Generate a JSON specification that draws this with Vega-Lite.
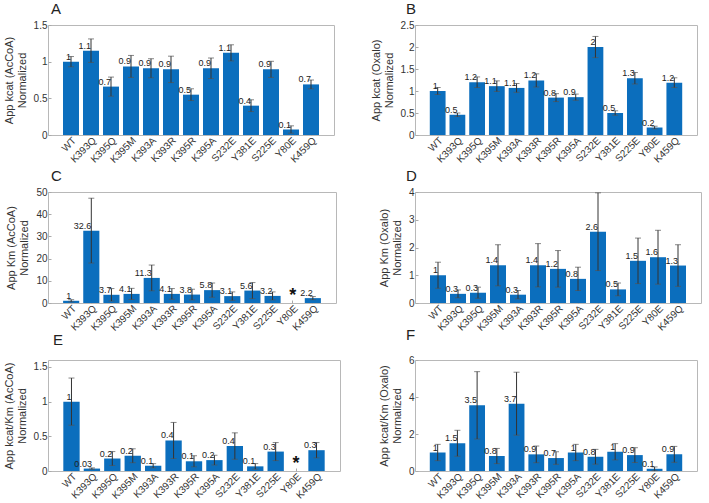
{
  "$schema": "https://vega.github.io/schema/vega-lite/v6.json",
  "padding": {"left": 2, "top": 1, "right": 0, "bottom": 0},
  "bounds": "flush",
  "columns": 2,
  "spacing": {"row": 57, "column": 75},
  "config": {
    "font": "Liberation Sans",
    "view": {"stroke": "#b8b8b8"},
    "axis": {"domain": false, "grid": false, "labelFont": "Liberation Sans", "labelFontSize": 10, "labelColor": "#333", "tickColor": "#aaa", "tickSize": -3, "labelPadding": 4, "titleFont": "Liberation Sans", "titleFontSize": 11, "titleColor": "#333", "titleFontWeight": "normal", "titlePadding": 6},
    "axisX": {"labelAngle": -45, "title": null, "labelPadding": 3},
    "title": {"fontSize": 15, "fontWeight": "normal", "anchor": "start", "frame": "group", "color": "#222", "font": "Liberation Sans", "offset": 3}
  },
  "datasets": {
    "A": [
      {"m": "WT", "v": 1.0, "e": 0.07, "lab": "1"},
      {"m": "K393Q", "v": 1.15, "e": 0.16, "lab": "1.1"},
      {"m": "K395Q", "v": 0.66, "e": 0.13, "lab": "0.7"},
      {"m": "K395M", "v": 0.935, "e": 0.15, "lab": "0.9"},
      {"m": "K393A", "v": 0.91, "e": 0.13, "lab": "0.9"},
      {"m": "K393R", "v": 0.895, "e": 0.18, "lab": "0.9"},
      {"m": "K395R", "v": 0.55, "e": 0.08, "lab": "0.5"},
      {"m": "K395A", "v": 0.91, "e": 0.14, "lab": "0.9"},
      {"m": "S232E", "v": 1.12, "e": 0.11, "lab": "1.1"},
      {"m": "Y381E", "v": 0.40, "e": 0.08, "lab": "0.4"},
      {"m": "S225E", "v": 0.895, "e": 0.11, "lab": "0.9"},
      {"m": "Y80E", "v": 0.075, "e": 0.05, "lab": "0.1"},
      {"m": "K459Q", "v": 0.69, "e": 0.06, "lab": "0.7"}
    ],
    "B": [
      {"m": "WT", "v": 1.0, "e": 0.08, "lab": "1"},
      {"m": "K393Q", "v": 0.46, "e": 0.04, "lab": "0.5"},
      {"m": "K395Q", "v": 1.2, "e": 0.12, "lab": "1.2"},
      {"m": "K395M", "v": 1.11, "e": 0.12, "lab": "1.1"},
      {"m": "K393A", "v": 1.07, "e": 0.1, "lab": "1.1"},
      {"m": "K393R", "v": 1.24, "e": 0.15, "lab": "1.2"},
      {"m": "K395R", "v": 0.85, "e": 0.09, "lab": "0.8"},
      {"m": "K395A", "v": 0.86, "e": 0.07, "lab": "0.9"},
      {"m": "S232E", "v": 2.0, "e": 0.24, "lab": "2"},
      {"m": "Y381E", "v": 0.5, "e": 0.05, "lab": "0.5"},
      {"m": "S225E", "v": 1.29, "e": 0.13, "lab": "1.3"},
      {"m": "Y80E", "v": 0.17, "e": 0.03, "lab": "0.2"},
      {"m": "K459Q", "v": 1.19, "e": 0.11, "lab": "1.2"}
    ],
    "C": [
      {"m": "WT", "v": 1.0, "e": 0.5, "lab": "1"},
      {"m": "K393Q", "v": 32.6, "e": 14.6, "lab": "32.6"},
      {"m": "K395Q", "v": 3.7, "e": 2.8, "lab": "3.7"},
      {"m": "K395M", "v": 4.1, "e": 2.5, "lab": "4.1"},
      {"m": "K393A", "v": 11.3, "e": 5.8, "lab": "11.3"},
      {"m": "K393R", "v": 4.1, "e": 2.4, "lab": "4.1"},
      {"m": "K395R", "v": 3.8, "e": 2.4, "lab": "3.8"},
      {"m": "K395A", "v": 5.8, "e": 3.2, "lab": "5.8"},
      {"m": "S232E", "v": 3.1, "e": 1.9, "lab": "3.1"},
      {"m": "Y381E", "v": 5.6, "e": 3.6, "lab": "5.6"},
      {"m": "S225E", "v": 3.2, "e": 1.8, "lab": "3.2"},
      {"m": "K459Q", "v": 2.2, "e": 0.7, "lab": "2.2"}
    ],
    "D": [
      {"m": "WT", "v": 1.0, "e": 0.47, "lab": "1"},
      {"m": "K393Q", "v": 0.33, "e": 0.14, "lab": "0.3"},
      {"m": "K395Q", "v": 0.37, "e": 0.2, "lab": "0.3"},
      {"m": "K395M", "v": 1.36, "e": 0.74, "lab": "1.4"},
      {"m": "K393A", "v": 0.3, "e": 0.15, "lab": "0.3"},
      {"m": "K393R", "v": 1.36, "e": 0.78, "lab": "1.4"},
      {"m": "K395R", "v": 1.23, "e": 0.66, "lab": "1.2"},
      {"m": "K395A", "v": 0.87, "e": 0.42, "lab": "0.8"},
      {"m": "S232E", "v": 2.57, "e": 1.4, "lab": "2.6"},
      {"m": "Y381E", "v": 0.49, "e": 0.23, "lab": "0.5"},
      {"m": "S225E", "v": 1.52, "e": 0.82, "lab": "1.5"},
      {"m": "Y80E", "v": 1.65, "e": 0.97, "lab": "1.6"},
      {"m": "K459Q", "v": 1.35, "e": 0.75, "lab": "1.3"}
    ],
    "E": [
      {"m": "WT", "v": 1.0, "e": 0.34, "lab": "1"},
      {"m": "K393Q", "v": 0.035, "e": 0.01, "lab": "0.03"},
      {"m": "K395Q", "v": 0.18, "e": 0.1, "lab": "0.2"},
      {"m": "K395M", "v": 0.22, "e": 0.1, "lab": "0.2"},
      {"m": "K393A", "v": 0.076, "e": 0.03, "lab": "0.1"},
      {"m": "K393R", "v": 0.44, "e": 0.26, "lab": "0.4"},
      {"m": "K395R", "v": 0.14, "e": 0.08, "lab": "0.1"},
      {"m": "K395A", "v": 0.157, "e": 0.07, "lab": "0.2"},
      {"m": "S232E", "v": 0.36, "e": 0.19, "lab": "0.4"},
      {"m": "Y381E", "v": 0.067, "e": 0.04, "lab": "0.1"},
      {"m": "S225E", "v": 0.28, "e": 0.13, "lab": "0.3"},
      {"m": "K459Q", "v": 0.30, "e": 0.11, "lab": "0.3"}
    ],
    "F": [
      {"m": "WT", "v": 1.0, "e": 0.44, "lab": "1"},
      {"m": "K393Q", "v": 1.5, "e": 0.7, "lab": "1.5"},
      {"m": "K395Q", "v": 3.55, "e": 1.82, "lab": "3.5"},
      {"m": "K395M", "v": 0.81, "e": 0.41, "lab": "0.8"},
      {"m": "K393A", "v": 3.64, "e": 1.7, "lab": "3.7"},
      {"m": "K393R", "v": 0.9, "e": 0.45, "lab": "0.9"},
      {"m": "K395R", "v": 0.7, "e": 0.34, "lab": "0.7"},
      {"m": "K395A", "v": 1.0, "e": 0.44, "lab": "1"},
      {"m": "S232E", "v": 0.77, "e": 0.4, "lab": "0.8"},
      {"m": "Y381E", "v": 1.04, "e": 0.44, "lab": "1"},
      {"m": "S225E", "v": 0.86, "e": 0.4, "lab": "0.9"},
      {"m": "Y80E", "v": 0.12, "e": 0.1, "lab": "0.1"},
      {"m": "K459Q", "v": 0.9, "e": 0.43, "lab": "0.9"}
    ],
    "star": [{"m": "Y80E", "s": "*"}]
  },
  "concat": [
    {
      "width": 286, "height": 110,
      "title": {"text": "A", "dx": 3},
      "data": {"name": "A"},
      "encoding": {
        "x": {"field": "m", "type": "nominal", "sort": null, "scale": {"domain": ["WT","K393Q","K395Q","K395M","K393A","K393R","K395R","K395A","S232E","Y381E","S225E","Y80E","K459Q"], "paddingInner": 0.2, "paddingOuter": 0.75}},
        "y": {"field": "v", "type": "quantitative", "scale": {"domain": [0, 1.5]}, "axis": {"values": [0, 0.5, 1, 1.5], "format": "~r", "title": ["App kcat (AcCoA)", "Normalized"]}}
      },
      "layer": [
        {"mark": {"type": "bar", "color": "#0b6ebd"}},
        {"mark": {"type": "errorbar", "color": "#333", "ticks": {"size": 6, "color": "#555"}}, "encoding": {"yError": {"field": "e"}}},
        {"mark": {"type": "text", "align": "right", "baseline": "bottom", "fontSize": 9, "color": "#222"}, "encoding": {"text": {"field": "lab"}}}
      ]
    },
    {
      "width": 282, "height": 110,
      "title": {"text": "B", "dx": -9},
      "data": {"name": "B"},
      "encoding": {
        "x": {"field": "m", "type": "nominal", "sort": null, "scale": {"domain": ["WT","K393Q","K395Q","K395M","K393A","K393R","K395R","K395A","S232E","Y381E","S225E","Y80E","K459Q"], "paddingInner": 0.2, "paddingOuter": 0.75}},
        "y": {"field": "v", "type": "quantitative", "scale": {"domain": [0, 2.5]}, "axis": {"values": [0, 0.5, 1, 1.5, 2, 2.5], "format": "~r", "title": ["App kcat (Oxalo)", "Normalized"]}}
      },
      "layer": [
        {"mark": {"type": "bar", "color": "#0b6ebd"}},
        {"mark": {"type": "errorbar", "color": "#333", "ticks": {"size": 6, "color": "#555"}}, "encoding": {"yError": {"field": "e"}}},
        {"mark": {"type": "text", "align": "right", "baseline": "bottom", "fontSize": 9, "color": "#222"}, "encoding": {"text": {"field": "lab"}}}
      ]
    },
    {
      "width": 288, "height": 111,
      "title": {"text": "C", "dx": 3},
      "layer": [
        {
          "data": {"name": "C"},
          "encoding": {
            "x": {"field": "m", "type": "nominal", "sort": null, "scale": {"domain": ["WT","K393Q","K395Q","K395M","K393A","K393R","K395R","K395A","S232E","Y381E","S225E","Y80E","K459Q"], "paddingInner": 0.2, "paddingOuter": 0.75}},
            "y": {"field": "v", "type": "quantitative", "scale": {"domain": [0, 50]}, "axis": {"values": [0, 10, 20, 30, 40, 50], "format": "~r", "title": ["App Km (AcCoA)", "Normalized"]}}
          },
          "layer": [
            {"mark": {"type": "bar", "color": "#0b6ebd"}},
            {"mark": {"type": "errorbar", "color": "#333", "ticks": {"size": 6, "color": "#555"}}, "encoding": {"yError": {"field": "e"}}},
            {"mark": {"type": "text", "align": "right", "baseline": "bottom", "fontSize": 9, "color": "#222"}, "encoding": {"text": {"field": "lab"}}}
          ]
        },
        {
          "data": {"name": "star"},
          "mark": {"type": "text", "fontSize": 18, "fontWeight": "bold", "baseline": "alphabetic", "align": "center", "dy": -2, "color": "#111"},
          "encoding": {
            "x": {"field": "m", "type": "nominal", "sort": null},
            "y": {"datum": 0, "axis": {"values": [0, 10, 20, 30, 40, 50], "format": "~r", "title": ["App Km (AcCoA)", "Normalized"]}},
            "text": {"field": "s"}
          }
        }
      ]
    },
    {
      "width": 286, "height": 111,
      "title": {"text": "D", "dx": -9},
      "data": {"name": "D"},
      "encoding": {
        "x": {"field": "m", "type": "nominal", "sort": null, "scale": {"domain": ["WT","K393Q","K395Q","K395M","K393A","K393R","K395R","K395A","S232E","Y381E","S225E","Y80E","K459Q"], "paddingInner": 0.2, "paddingOuter": 0.75}},
        "y": {"field": "v", "type": "quantitative", "scale": {"domain": [0, 4]}, "axis": {"values": [0, 1, 2, 3, 4], "format": "~r", "title": ["App Km (Oxalo)", "Normalized"]}}
      },
      "layer": [
        {"mark": {"type": "bar", "color": "#0b6ebd"}},
        {"mark": {"type": "errorbar", "color": "#333", "ticks": {"size": 6, "color": "#555"}}, "encoding": {"yError": {"field": "e"}}},
        {"mark": {"type": "text", "align": "right", "baseline": "bottom", "fontSize": 9, "color": "#222"}, "encoding": {"text": {"field": "lab"}}}
      ]
    },
    {
      "width": 292, "height": 111,
      "title": {"text": "E", "dx": 5, "offset": 12},
      "layer": [
        {
          "data": {"name": "E"},
          "encoding": {
            "x": {"field": "m", "type": "nominal", "sort": null, "scale": {"domain": ["WT","K393Q","K395Q","K395M","K393A","K393R","K395R","K395A","S232E","Y381E","S225E","Y80E","K459Q"], "paddingInner": 0.2, "paddingOuter": 0.75}},
            "y": {"field": "v", "type": "quantitative", "scale": {"domain": [0, 1.5]}, "axis": {"values": [0, 0.5, 1, 1.5], "format": "~r", "title": ["App kcat/Km (AcCoA)", "Normalized"]}}
          },
          "layer": [
            {"mark": {"type": "bar", "color": "#0b6ebd"}},
            {"mark": {"type": "errorbar", "color": "#333", "ticks": {"size": 6, "color": "#555"}}, "encoding": {"yError": {"field": "e"}}},
            {"mark": {"type": "text", "align": "right", "baseline": "bottom", "fontSize": 9, "color": "#222"}, "encoding": {"text": {"field": "lab"}}}
          ]
        },
        {
          "data": {"name": "star"},
          "mark": {"type": "text", "fontSize": 18, "fontWeight": "bold", "baseline": "alphabetic", "align": "center", "dy": -2, "color": "#111"},
          "encoding": {
            "x": {"field": "m", "type": "nominal", "sort": null},
            "y": {"datum": 0, "axis": {"values": [0, 0.5, 1, 1.5], "format": "~r", "title": ["App kcat/Km (AcCoA)", "Normalized"]}},
            "text": {"field": "s"}
          }
        }
      ]
    },
    {
      "width": 282, "height": 111,
      "title": {"text": "F", "dx": -9, "offset": 12},
      "data": {"name": "F"},
      "encoding": {
        "x": {"field": "m", "type": "nominal", "sort": null, "scale": {"domain": ["WT","K393Q","K395Q","K395M","K393A","K393R","K395R","K395A","S232E","Y381E","S225E","Y80E","K459Q"], "paddingInner": 0.2, "paddingOuter": 0.75}},
        "y": {"field": "v", "type": "quantitative", "scale": {"domain": [0, 6]}, "axis": {"values": [0, 2, 4, 6], "format": "~r", "title": ["App kcat/Km (Oxalo)", "Normalized"]}}
      },
      "layer": [
        {"mark": {"type": "bar", "color": "#0b6ebd"}},
        {"mark": {"type": "errorbar", "color": "#333", "ticks": {"size": 6, "color": "#555"}}, "encoding": {"yError": {"field": "e"}}},
        {"mark": {"type": "text", "align": "right", "baseline": "bottom", "fontSize": 9, "color": "#222"}, "encoding": {"text": {"field": "lab"}}}
      ]
    }
  ]
}
